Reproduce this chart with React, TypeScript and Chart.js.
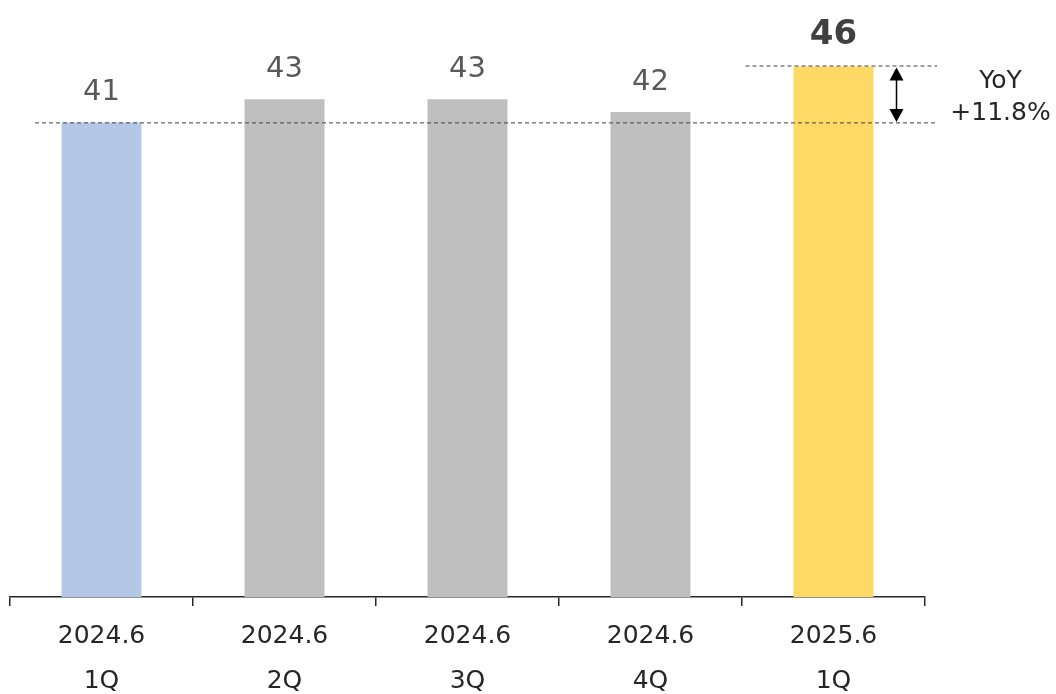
import React, { useEffect, useRef } from "react";
import { Chart, registerables } from "chart.js";

Chart.register(...registerables);

const categories: string[][] = [
  ["2024.6", "1Q"],
  ["2024.6", "2Q"],
  ["2024.6", "3Q"],
  ["2024.6", "4Q"],
  ["2025.6", "1Q"],
];
const values: number[] = [41.2, 43.2, 43.2, 42.1, 46.05];
const valueLabels: string[] = ["41", "43", "43", "42", "46"];
const barColors: string[] = ["#B4C7E7", "#BFBFBF", "#BFBFBF", "#BFBFBF", "#FFD966"];
const yoyLines: string[] = ["YoY", "+11.8%"];

const FONT = "'DejaVu Sans', Verdana, sans-serif";

const annotationPlugin = {
  id: "annotations",
  afterDatasetsDraw(chart: any) {
    const ctx = chart.ctx as CanvasRenderingContext2D;
    const meta = chart.getDatasetMeta(0);
    const x = chart.scales.x;
    const y = chart.scales.y;
    const area = chart.chartArea;
    ctx.save();
    // value labels
    meta.data.forEach((bar: any, i: number) => {
      const last = i === values.length - 1;
      ctx.font = last ? `bold 34px ${FONT}` : `29px ${FONT}`;
      ctx.fillStyle = last ? "#404040" : "#595959";
      ctx.textAlign = "center";
      ctx.textBaseline = "alphabetic";
      ctx.fillText(valueLabels[i], bar.x, bar.y - (last ? 23 : 22));
    });
    // dashed lines
    const yLow = y.getPixelForValue(values[0]);
    const yHigh = y.getPixelForValue(values[values.length - 1]);
    const lastX = x.getPixelForValue(values.length - 1);
    ctx.strokeStyle = "#404040";
    ctx.lineWidth = 1;
    ctx.setLineDash([4, 3]);
    ctx.beginPath();
    ctx.moveTo(area.left + 25, yLow + 0.5);
    ctx.lineTo(area.right + 12, yLow + 0.5);
    ctx.moveTo(lastX - 88, yHigh - 0.5);
    ctx.lineTo(area.right + 12, yHigh - 0.5);
    ctx.stroke();
    ctx.setLineDash([]);
    // double arrow
    const ax = lastX + 63;
    const top = yHigh + 1;
    const bot = yLow - 0.5;
    ctx.strokeStyle = "#000";
    ctx.fillStyle = "#000";
    ctx.lineWidth = 1.5;
    ctx.beginPath();
    ctx.moveTo(ax, top + 8);
    ctx.lineTo(ax, bot - 8);
    ctx.stroke();
    ctx.beginPath();
    ctx.moveTo(ax, top);
    ctx.lineTo(ax - 7, top + 13);
    ctx.lineTo(ax + 7, top + 13);
    ctx.closePath();
    ctx.fill();
    ctx.beginPath();
    ctx.moveTo(ax, bot);
    ctx.lineTo(ax - 7, bot - 13);
    ctx.lineTo(ax + 7, bot - 13);
    ctx.closePath();
    ctx.fill();
    // YoY text
    ctx.font = `25px ${FONT}`;
    ctx.fillStyle = "#262626";
    ctx.textAlign = "center";
    ctx.textBaseline = "middle";
    ctx.fillText(yoyLines[0], ax + 104, yHigh + 15);
    ctx.fillText(yoyLines[1], ax + 104, yHigh + 47);
    ctx.restore();
  },
};

export default function App() {
  const ref = useRef<HTMLCanvasElement>(null);
  useEffect(() => {
    if (!ref.current) return;
    const chart = new Chart(ref.current, {
      type: "bar",
      data: {
        labels: categories,
        datasets: [
          {
            data: values,
            backgroundColor: barColors,
            borderWidth: 0,
            barPercentage: 0.437,
            categoryPercentage: 1,
          },
        ],
      },
      options: {
        animation: false,
        responsive: false,
        maintainAspectRatio: false,
        layout: { padding: { left: 10, right: 131, top: 21, bottom: 0 } },
        plugins: { legend: { display: false }, tooltip: { enabled: false } },
        scales: {
          x: {
            offset: true,
            grid: {
              offset: true,
              drawOnChartArea: false,
              drawTicks: true,
              tickLength: 9,
              color: "#262626",
              lineWidth: 1.5,
            },
            border: { display: true, color: "#262626", width: 1.5 },
            ticks: {
              padding: 7.5,
              color: "#262626",
              font: { family: FONT, size: 25, lineHeight: 1.8 },
              maxRotation: 0,
              autoSkip: false,
            },
            afterFit: (scale: any) => {
              scale.height = 97;
            },
          },
          y: {
            display: false,
            min: 0,
            max: 50,
          },
        },
      },
      plugins: [annotationPlugin],
    });
    return () => chart.destroy();
  }, []);
  return (
    <div style={{ position: "fixed", left: 0, top: 0, width: 1056, height: 694, background: "#fff" }}>
      <canvas ref={ref} width={1056} height={694} style={{ display: "block" }} />
    </div>
  );
}
